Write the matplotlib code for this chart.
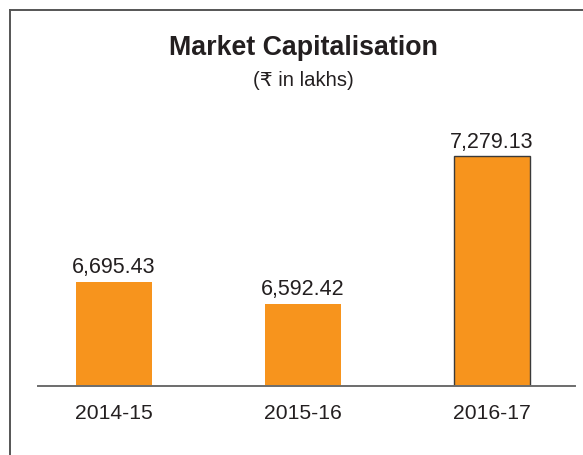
import matplotlib.pyplot as plt
from matplotlib.lines import Line2D

plt.rcParams['font.family'] = ['Liberation Sans', 'DejaVu Sans']

# data
years = ['2014-15', '2015-16', '2016-17']
market_cap = [6695.43, 6592.42, 7279.13]
value_labels = ['6,695.43', '6,592.42', '7,279.13']

bar_color = '#F7941D'
text_color = '#231F20'

fig = plt.figure(figsize=(5.83, 4.55), dpi=100)
ax = fig.add_axes([0.0652, 0.1516, 0.921, 0.54])

x = range(len(years))
bars = ax.bar(x, market_cap, width=0.40, color=bar_color, zorder=2)
# last bar has a dark outline in the original
bars[-1].set_edgecolor('#3a3a3a')
bars[-1].set_linewidth(1.0)

for xi, v, lab in zip(x, market_cap, value_labels):
    ax.annotate(lab, (xi, v), xytext=(0, 2.5), textcoords='offset points',
                ha='center', va='bottom', fontsize=15.5, color=text_color)

ax.set_xlim(-0.402, 2.439)
# axis does not start at zero
ax.set_ylim(6210, 6210 + 246 / 0.2154)

ax.set_xticks(list(x))
ax.set_xticklabels(years, fontsize=15.2, color=text_color)
ax.tick_params(axis='x', length=0, pad=13)
ax.set_yticks([])

for side in ['top', 'right', 'left']:
    ax.spines[side].set_visible(False)
ax.spines['bottom'].set_color('#6d6d6d')
ax.spines['bottom'].set_linewidth(1.4)
ax.spines['bottom'].set_zorder(3)

cx = 303 / 583
fig.text(cx, 1 - 48 / 455, 'Market Capitalisation', ha='center', va='center',
         fontsize=19.3, fontweight='bold', color=text_color)
fig.text(cx, 1 - 80 / 455, '(₹ in lakhs)', ha='center', va='center',
         fontsize=14.6, color=text_color)

# outer frame (left and top edges visible)
frame_x = 10 / 583
frame_y = 1 - 10 / 455
fig.add_artist(Line2D([frame_x, frame_x], [0, frame_y], color='#555555', lw=1.4))
fig.add_artist(Line2D([frame_x, 1], [frame_y, frame_y], color='#555555', lw=1.4))

fig.savefig('out.png', dpi=100)
